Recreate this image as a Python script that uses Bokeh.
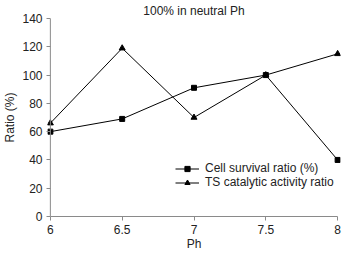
from bokeh.plotting import figure
from bokeh.models import Range1d, Legend, LegendItem, FixedTicker, Span
from bokeh.embed import file_html
from bokeh.resources import INLINE

ph = [6, 6.5, 7, 7.5, 8]
cell_survival = [60, 69, 91, 100, 40]
ts_activity = [66, 119, 70, 100, 115]
x_ticks = [6, 6.5, 7, 7.5, 8]
y_ticks = [0, 20, 40, 60, 80, 100, 120, 140]
title_text = "100% in neutral Ph"

FONT = "Liberation Sans"
TXT = "#222222"
AXC = "#8a8a8a"

p = figure(width=343, height=253, output_backend="svg", toolbar_location=None,
           x_range=Range1d(5.98, 8.02), y_range=Range1d(0, 140),
           min_border_left=47, min_border_right=3, min_border_top=0, min_border_bottom=37)

p.title.text = title_text
p.title.align = "center"
p.title.text_font = FONT
p.title.text_font_size = "12px"
p.title.text_font_style = "normal"
p.title.text_color = TXT
p.title.standoff = 2

p.outline_line_color = None
p.xgrid.grid_line_color = None
p.ygrid.grid_line_color = None

for ax in (p.xaxis[0], p.yaxis[0]):
    ax.axis_line_color = AXC
    ax.major_tick_line_color = AXC
    ax.minor_tick_line_color = None
    ax.major_label_text_font = FONT
    ax.major_label_text_font_size = "12px"
    ax.major_label_text_color = TXT
    ax.axis_label_text_font = FONT
    ax.axis_label_text_font_size = "12px"
    ax.axis_label_text_font_style = "normal"
    ax.axis_label_text_color = TXT

p.xaxis.ticker = FixedTicker(ticks=x_ticks)
p.yaxis.ticker = FixedTicker(ticks=y_ticks)
p.xaxis.bounds = (6, 8)
p.xaxis.major_tick_out = 4
p.xaxis.major_tick_in = 0
p.xaxis.major_label_standoff = 4
p.xaxis.axis_label_standoff = 0
p.xaxis.axis_label_text_baseline = "bottom"
# the y axis line is drawn at x=6 (a Span); ticks reach from the frame edge to it
p.yaxis.axis_line_color = None
p.yaxis.major_tick_out = 1
p.yaxis.major_tick_in = 3
p.yaxis.major_label_standoff = 4
p.yaxis.axis_label_standoff = 2
p.xaxis.major_label_overrides = {6: "6", 6.5: "6.5", 7: "7", 7.5: "7.5", 8: "8"}
p.xaxis.axis_label = "Ph"
p.yaxis.axis_label = "Ratio (%)"

p.add_layout(Span(location=x_ticks[0], dimension="height", line_color=AXC, line_width=1))

l1 = p.line(ph, cell_survival, line_color="black", line_width=1)
m1 = p.scatter(ph, cell_survival, marker="square", size=5, color="black")
l2 = p.line(ph, ts_activity, line_color="black", line_width=1)
m2 = p.scatter(ph, ts_activity, marker="triangle", size=6, color="black")

legend = Legend(items=[
    LegendItem(label="Cell survival ratio (%)", renderers=[l1, m1]),
    LegendItem(label="TS catalytic activity ratio", renderers=[l2, m2]),
], location=(128, 27))
legend.background_fill_alpha = 0
legend.border_line_color = None
legend.label_text_font = FONT
legend.label_text_font_size = "12px"
legend.label_text_color = TXT
legend.glyph_width = 24
legend.label_height = 13
legend.glyph_height = 13
legend.spacing = 0
legend.padding = 0
legend.margin = 0
legend.label_standoff = 6
p.add_layout(legend, "center")

open("out.html", "w").write(file_html(p, INLINE))
